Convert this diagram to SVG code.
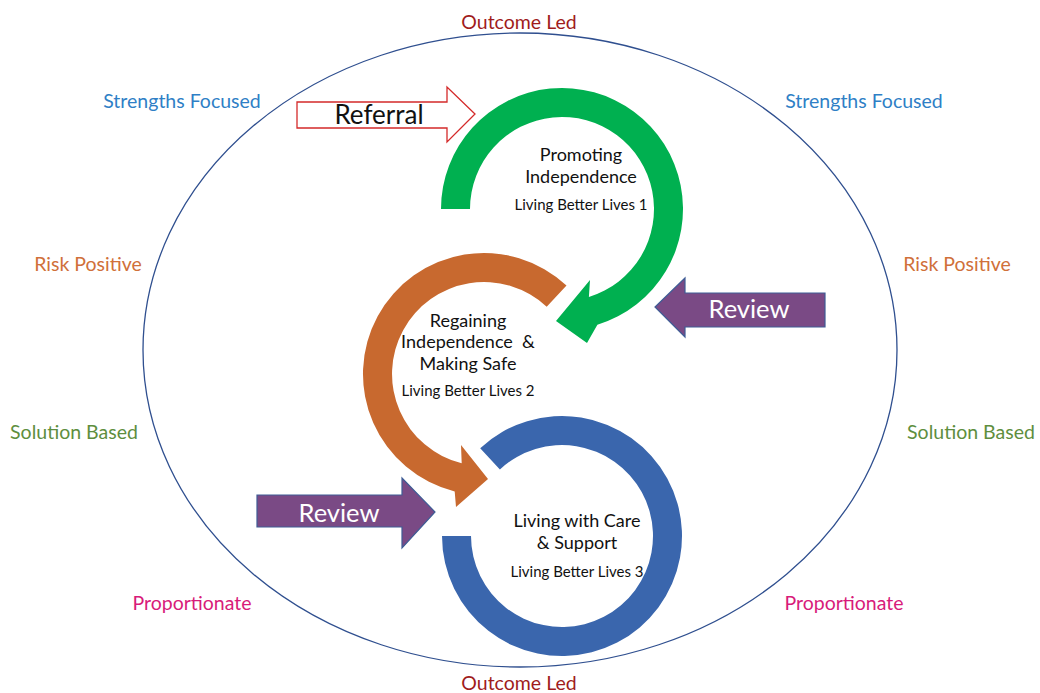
<svg xmlns="http://www.w3.org/2000/svg" width="1040" height="693" viewBox="0 0 1040 693">
  <style>
    .lbl { font-family: "Lato", "Liberation Sans", sans-serif; font-size: 19.5px; text-anchor: middle; }
    .outcome { fill: #A01C1C; }
    .strength { fill: #2F7FC6; }
    .risk { fill: #D0703A; }
    .solution { fill: #5E8E3E; }
    .prop { fill: #D81B7A; }
    .title { font-family: "Lato", "Liberation Sans", sans-serif; font-size: 18px; fill: #111; text-anchor: middle; white-space: pre; }
    .sub { font-family: "Lato", "Liberation Sans", sans-serif; font-size: 15px; fill: #111; text-anchor: middle; }
    .review { fill: #7A4A85; stroke: #3E5C95; stroke-width: 1.2; }
    .review-text { font-family: "Lato", "Liberation Sans", sans-serif; font-size: 25.5px; fill: #fff; text-anchor: middle; }
  </style>

  <rect width="1040" height="693" fill="#fff"/>

  <!-- outer boundary -->
  <g id="boundary">
    <ellipse cx="520" cy="350" rx="377" ry="317" fill="none" stroke="#2F4F8F" stroke-width="1.3"/>
  </g>

  <!-- principle labels around the boundary -->
  <g id="labels">
    <text class="lbl outcome" x="519" y="29">Outcome Led</text>
    <text class="lbl outcome" x="519" y="690">Outcome Led</text>
    <text class="lbl strength" x="182" y="108">Strengths Focused</text>
    <text class="lbl strength" x="864" y="108">Strengths Focused</text>
    <text class="lbl risk" x="88" y="271">Risk Positive</text>
    <text class="lbl risk" x="957" y="271">Risk Positive</text>
    <text class="lbl solution" x="74" y="439">Solution Based</text>
    <text class="lbl solution" x="971" y="439">Solution Based</text>
    <text class="lbl prop" x="192" y="610">Proportionate</text>
    <text class="lbl prop" x="844" y="610">Proportionate</text>
  </g>

  <!-- stage 1: green circular arrow -->
  <g id="stage1">
    <path d="M 441 209 A 121 121 0 1 1 597.4 324.7 L 587 343 L 556 321 L 590 280 L 588.9 297 A 92 92 0 1 0 470 209 Z" fill="#00B050"/>
    <text class="title" x="581" y="161">Promoting</text>
    <text class="title" x="581" y="183">Independence</text>
    <text class="sub" x="581" y="210">Living Better Lives 1</text>
  </g>

  <!-- stage 2: orange circular arrow -->
  <g id="stage2">
    <path d="M 566.5 285.5 A 121 121 0 1 0 454.7 491.4 L 456 507 L 488 479 L 461 445 L 461.7 463.3 A 92 92 0 1 1 546.7 306.7 Z" fill="#C8692F"/>
    <text class="title" x="468" y="327">Regaining</text>
    <text class="title" x="468" y="348">Independence  &amp;</text>
    <text class="title" x="468" y="370">Making Safe</text>
    <text class="sub" x="468" y="396">Living Better Lives 2</text>
  </g>

  <!-- stage 3: blue ring -->
  <g id="stage3">
    <path d="M 442 536 A 120 120 0 1 0 480.2 448.2 L 499.9 469.5 A 91 91 0 1 1 471 536 Z" fill="#3A66AD"/>
    <text class="title" x="577" y="527">Living with Care</text>
    <text class="title" x="577" y="549">&amp; Support</text>
    <text class="sub" x="577" y="577">Living Better Lives 3</text>
  </g>

  <!-- entry and review arrows -->
  <g id="connectors">
    <g id="referral">
      <path d="M 297 102 L 447 102 L 447 87 L 475 114 L 447 142 L 447 128 L 297 128 Z" fill="#fff" stroke="#D42A2A" stroke-width="1.3"/>
      <text x="379" y="124" font-family="Lato, 'Liberation Sans', sans-serif" font-size="26" fill="#111" text-anchor="middle">Referral</text>
    </g>
    <g id="review-right">
      <path class="review" d="M 825 293 L 685 293 L 685 278 L 655 307 L 685 337 L 685 327 L 825 327 Z"/>
      <text class="review-text" x="749" y="318">Review</text>
    </g>
    <g id="review-left">
      <path class="review" d="M 257 495 L 402 495 L 402 478 L 435 512 L 402 548 L 402 527 L 257 527 Z"/>
      <text class="review-text" x="339" y="522">Review</text>
    </g>
  </g>
</svg>
